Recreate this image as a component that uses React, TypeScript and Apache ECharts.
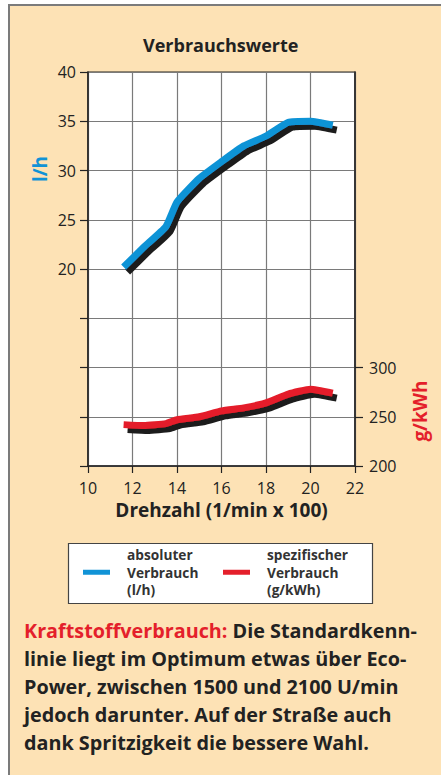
import React, { useEffect, useRef } from "react";
import * as echarts from "echarts";

const title = "Verbrauchswerte";
const xName = "Drehzahl (1/min x 100)";
const leftUnit = "l/h";
const rightUnit = "g/kWh";
const rpm = [11.6, 12.5, 13.5, 14.0, 15.0, 16.0, 17.0, 18.0, 19.0, 20.0, 21.0];
const absoluteUse = [20.2, 22.2, 24.3, 26.8, 29.2, 30.9, 32.5, 33.5, 34.9, 35.0, 34.6];
const specificUse = [242, 241, 243, 247, 250, 256, 259, 264, 273, 278, 274];
const seriesNames = ["absoluter\nVerbrauch\n(l/h)", "spezifischer\nVerbrauch\n(g/kWh)"];
const leftLabels = [20, 25, 30, 35, 40];
const rightLabels = [200, 250, 300];
const captionLead = "Kraftstoffverbrauch:";
const captionLines = [
  " Die Standardkenn-",
  "linie liegt im Optimum etwas über Eco-",
  "Power, zwischen 1500 und 2100 U/min",
  "jedoch darunter. Auf der Straße auch",
  "dank Spritzigkeit die bessere Wahl.",
];

const FONT = "'Open Sans', 'Noto Sans', sans-serif";
const BLUE = "#1193d6";
const RED = "#e41f2b";
const DARK = "#222222";
const GRIDC = "#7a7a7a";

export default function App() {
  const ref = useRef<HTMLDivElement>(null);
  useEffect(() => {
    const chart = echarts.init(ref.current!, null, { renderer: "svg" });
    const shadow = { shadowColor: "#1d1d1d", shadowOffsetX: 4, shadowOffsetY: 5, shadowBlur: 0 };
    chart.setOption({
      animation: false,
      backgroundColor: "#ffffff",
      textStyle: { fontFamily: FONT },
      title: {
        text: title,
        left: 143,
        top: 36,
        padding: 0,
        textStyle: { fontFamily: FONT, fontSize: 18, fontWeight: "bold", color: DARK },
      },
      grid: {
        left: 88,
        right: 86,
        top: 72,
        bottom: 309,
        show: true,
        backgroundColor: "#ffffff",
        borderColor: DARK,
        borderWidth: 1.2,
      },
      legend: {
        left: 83,
        top: 546,
        padding: 0,
        itemWidth: 27,
        itemHeight: 5,
        itemGap: 12,
        icon: "rect",
        textStyle: {
          fontFamily: FONT,
          fontSize: 13.7,
          fontWeight: "bold",
          color: "#333",
          lineHeight: 17.5,
          padding: [0, 0, 0, 12],
          width: 84,
        },
        itemStyle: { shadowBlur: 0, shadowOffsetX: 0, shadowOffsetY: 0, shadowColor: "transparent" },
        lineStyle: { shadowBlur: 0, shadowOffsetX: 0, shadowOffsetY: 0, shadowColor: "transparent" },
        data: seriesNames,
      },
      xAxis: {
        type: "value",
        min: 10,
        max: 22,
        interval: 2,
        name: xName,
        nameLocation: "middle",
        nameGap: 33,
        nameTextStyle: { fontFamily: FONT, fontSize: 19, fontWeight: "bold", color: DARK },
        axisLine: { show: true, onZero: false, lineStyle: { color: DARK, width: 1.5 } },
        axisTick: { show: true, length: 7, lineStyle: { color: DARK, width: 1.2 } },
        axisLabel: { fontFamily: FONT, fontSize: 16, color: DARK, margin: 14 },
        splitLine: { show: true, lineStyle: { color: GRIDC, width: 1.2 } },
      },
      yAxis: [
        {
          type: "value",
          min: 0,
          max: 40,
          interval: 5,
          position: "left",
          axisLine: { show: true, onZero: false, lineStyle: { color: DARK, width: 1.5 } },
          axisTick: { show: true, length: 8, lineStyle: { color: DARK, width: 1.2 } },
          axisLabel: { fontFamily: FONT, fontSize: 16, color: DARK, margin: 12, customValues: leftLabels },
          splitLine: { show: true, lineStyle: { color: GRIDC, width: 1.2 } },
        },
        {
          type: "value",
          min: 200,
          max: 600,
          interval: 50,
          position: "right",
          axisLine: { show: true, onZero: false, lineStyle: { color: DARK, width: 1.5 } },
          axisTick: { show: true, length: 8, lineStyle: { color: DARK, width: 1.2 }, customValues: rightLabels },
          axisLabel: { fontFamily: FONT, fontSize: 16, color: DARK, margin: 14, customValues: rightLabels },
          splitLine: { show: false },
        },
      ],
      series: [
        {
          name: seriesNames[0],
          type: "line",
          yAxisIndex: 0,
          symbol: "none",
          smooth: 0.15,
          color: BLUE,
          lineStyle: { color: BLUE, width: 7, ...shadow },
          data: rpm.map((x, i) => [x, absoluteUse[i]]),
        },
        {
          name: seriesNames[1],
          type: "line",
          yAxisIndex: 1,
          symbol: "none",
          smooth: 0.15,
          color: RED,
          lineStyle: { color: RED, width: 7, ...shadow },
          data: rpm.map((x, i) => [x, specificUse[i]]),
        },
      ],
      graphic: [
        {
          type: "rect",
          z: -100,
          silent: true,
          shape: { x: 9, y: 5, width: 460, height: 800 },
          style: { fill: "#fde2b5", stroke: "#7b7b7b", lineWidth: 2 },
        },
        {
          type: "rect",
          z: -50,
          silent: true,
          shape: { x: 68.5, y: 543.5, width: 304, height: 60 },
          style: { fill: "#ffffff", stroke: "#444", lineWidth: 1.2 },
        },
        {
          type: "text",
          x: 40,
          y: 169,
          rotation: Math.PI / 2,
          style: {
            text: leftUnit,
            fill: BLUE,
            font: `bold 19px ${FONT}`,
            align: "center",
            verticalAlign: "middle",
          },
        },
        {
          type: "text",
          x: 420,
          y: 411,
          rotation: Math.PI / 2,
          style: {
            text: rightUnit,
            fill: RED,
            font: `bold 19px ${FONT}`,
            align: "center",
            verticalAlign: "middle",
          },
        },
        {
          type: "text",
          x: 24,
          y: 617,
          style: {
            text: "{r|" + captionLead + "}" + captionLines.join("\n"),
            fill: DARK,
            font: `bold 19.8px ${FONT}`,
            fontSize: 19.8,
            fontWeight: "bold",
            fontFamily: FONT,
            lineHeight: 27.8,
            verticalAlign: "top",
            rich: {
              r: { fill: RED, fontSize: 19.8, fontWeight: "bold", fontFamily: FONT, lineHeight: 27.8 },
            },
          },
        },
      ],
    });
    return () => chart.dispose();
  }, []);
  return <div ref={ref} style={{ position: "absolute", left: 0, top: 0, width: 441, height: 775 }} />;
}
